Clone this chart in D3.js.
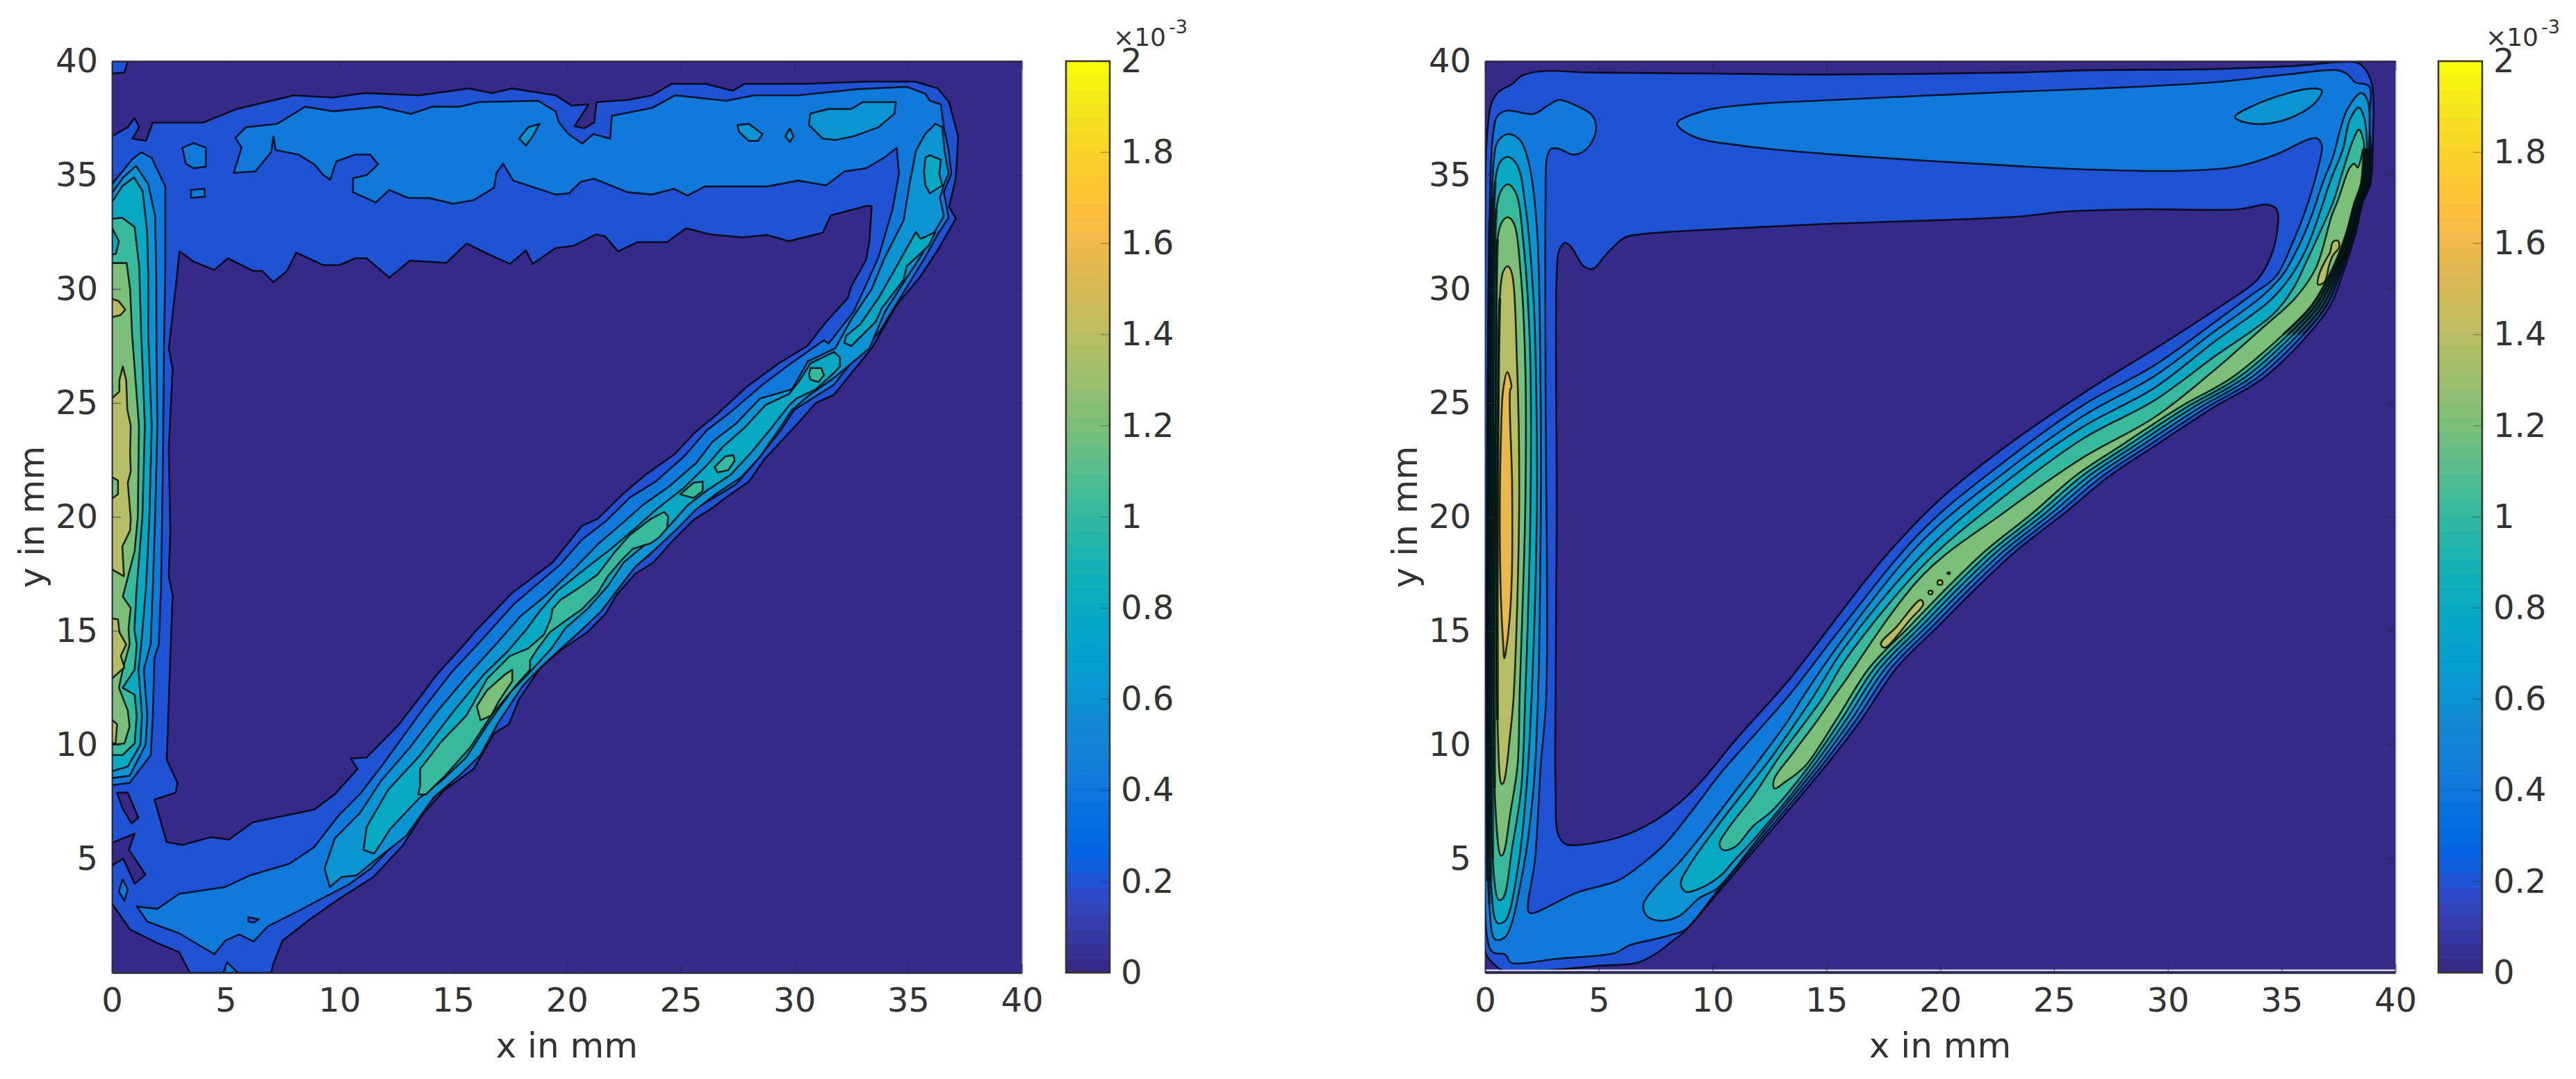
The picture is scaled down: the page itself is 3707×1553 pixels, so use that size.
<!DOCTYPE html>
<html><head><meta charset="utf-8">
<script src="https://cdn.jsdelivr.net/npm/d3@7"></script>
<style>html,body{margin:0;background:#fff}svg{display:block}text{font-family:"DejaVu Sans",sans-serif;fill:#333}</style>
</head><body><div id="c"></div>
<script>
// ---------- tick labels and levels ----------
const xTicks=[0,5,10,15,20,25,30,35,40];
const yTicks=[5,10,15,20,25,30,35,40];
const cbTicks=[0,0.2,0.4,0.6,0.8,1,1.2,1.4,1.6,1.8,2];
const axisLabels=["x in mm","y in mm"];
const parula=[[.2081,.1663,.5292],[.2116,.1898,.5777],[.2123,.2138,.627],[.2081,.2386,.6771],[.1959,.2645,.7279],[.1707,.2919,.7792],[.1253,.3242,.8303],[.0591,.3598,.8683],[.0117,.3875,.882],[.006,.4086,.8828],[.0165,.4266,.8786],[.0329,.443,.872],[.0498,.4586,.8641],[.0629,.4737,.8554],[.0723,.4887,.8467],[.0779,.504,.8384],[.0793,.52,.8312],[.0749,.5375,.8263],[.0641,.557,.824],[.0488,.5772,.8228],[.0343,.5966,.8199],[.0265,.6137,.8135],[.0239,.6287,.8038],[.0231,.6418,.7913],[.0228,.6535,.7768],[.0267,.6642,.7607],[.0384,.6743,.7436],[.059,.6838,.7254],[.0843,.6928,.7062],[.1133,.7015,.6859],[.1453,.7098,.6646],[.1801,.7177,.6424],[.2178,.725,.6193],[.2586,.7317,.5954],[.3022,.7376,.5712],[.3482,.7424,.5473],[.3953,.7459,.5244],[.442,.7481,.5033],[.4871,.7491,.484],[.53,.7491,.4661],[.5709,.7485,.4494],[.6099,.7473,.4337],[.6473,.7456,.4188],[.6834,.7435,.4044],[.7184,.7411,.3905],[.7525,.7384,.3768],[.7858,.7356,.3633],[.8185,.7327,.3498],[.8507,.7299,.336],[.8824,.7274,.3217],[.9139,.7258,.3063],[.945,.7261,.2886],[.9739,.7314,.2666],[.9938,.7455,.2403],[.999,.7653,.2164],[.9955,.7861,.1967],[.988,.8066,.1794],[.9789,.8271,.1633],[.9697,.8481,.1475],[.9626,.8705,.1309],[.9589,.8949,.1132],[.9598,.9218,.0948],[.9661,.9514,.0755],[.9763,.9831,.0538]];

// ---------- LEFT panel: contour rings, [x mm, y mm] ----------
const left02Outer=[[0,36.7],[.7,37.1],[1,37.5],[1.2,37.1],[.9,36.6],[1.5,36.5],[1.8,37.3],[4,37.3],[5.5,37.9],[8,38.5],[9.7,38.4],[11.1,38.6],[13.5,38.5],[15.7,38.8],[16.7,38.6],[17.6,38.8],[19.5,38.5],[20.2,38.05],[20.95,38.1],[20.34,37.15],[20.75,37.05],[21.2,37.3],[21.3,38.2],[22.7,38.3],[23.75,38.5],[24.6,39],[26.1,39],[27.3,38.7],[27.8,39],[30.4,39],[33.2,39.1],[35.3,39.1],[36.3,38.8],[36.8,38.2],[37.2,36.7],[37.1,34.9],[36.8,33.6],[37.1,33.1],[36.3,31.7],[35.5,30.5],[34.5,29.3],[33.4,27.4],[32.5,26.3],[31.74,25.36],[30.94,25],[30.24,24.2],[29.5,23.4],[28.7,22.56],[28,21.55],[27.2,21],[26.4,20.4],[25.6,19.9],[24.6,18.9],[23.8,18],[23,17.5],[22.2,16.6],[21.7,15.75],[20.9,14.94],[19.7,14.13],[18.85,13.4],[17.9,12],[17.45,10.9],[16.8,10.5],[15.9,8.94],[14.6,8],[13.7,7],[12.8,5.6],[11.5,4.2],[10,3.25],[8.7,2.34],[7.5,1.4],[7.1,.4],[7,0],[3.43,0],[2.96,.9],[2,1.3],[.8,1.9],[0,3.05]];
const left02Corner=[[0,40],[.7,40],[.55,39.5],[0,39.46]];
const left02Inner=[[2.97,31.66],[3.6,31.2],[4.5,30.84],[5.1,31.35],[6.2,30.8],[6.6,30.8],[7.1,30.3],[7.7,30.8],[8.1,31.6],[9.3,31.05],[10,31.05],[10.7,31.35],[11.2,31.35],[12.2,30.5],[13.1,31.25],[14.7,31.15],[15.6,32],[16.4,31.6],[17.5,31.1],[18.2,31.7],[18.5,31.1],[19.5,31.8],[20.3,31.9],[21.3,32.4],[21.7,32.3],[22.25,31.65],[23.1,32.06],[24.4,32.06],[25.25,32.67],[26.3,32.4],[27.7,32.27],[28.8,32.37],[29.75,32.1],[31.25,32.47],[31.6,33.23],[33.16,33.64],[33.4,33.64],[33.3,32.1],[33.16,31.3],[32.5,30.1],[32.35,29.6],[31.4,28.56],[30.57,27.5],[29.3,26.73],[27.9,25.7],[26.6,24.5],[25.6,23.68],[24.75,22.76],[23.46,21.85],[22.5,21.04],[21.36,19.92],[20.66,19.6],[19.37,18],[17.6,16.67],[16,15],[15.4,14.3],[14.3,13.1],[13.55,12.1],[12.6,10.87],[11.2,9.45],[10.5,9.4],[10.8,8.94],[9.8,7.83],[8.9,7.16],[6.2,6.6],[5.14,5.84],[4.36,5.95],[3.1,5.6],[2.4,5.74],[1.87,7.6],[2.8,7.9],[2.88,8.33],[2.41,9.35],[2.57,13.9],[2.67,16.56],[2.5,17.4],[2.57,19.4],[2.5,23],[2.67,26.5],[2.5,27.4],[2.84,30.4]];
const left02HoleA=[[0,5.7],[1,6.1],[.75,5.4],[1.48,4.3],[1,3.9],[.5,5],[0,4.7]];
const left02HoleB=[[.23,7.9],[.7,7.9],[1.17,6.8],[.86,6.55],[.47,7.2]];
const left04Column=[[0,34.6],[.9,35.7],[1.3,36],[1.75,35.75],[2.35,34.5],[2.35,31],[2.29,27.4],[2.26,24],[2.21,20],[2.16,16.9],[2.06,14.4],[1.87,13.8],[1.8,11.3],[1.71,9.55],[.78,8.33],[0,8.23]];
const left04Main=[[5.36,35.1],[6.3,35.16],[7,36],[7.1,36.7],[7.2,36.1],[8.2,35.9],[8.9,35.47],[9.3,35],[9.6,34.8],[9.86,35.6],[10.7,35.9],[11.36,35.9],[11.7,35.47],[11.2,35],[10.6,34.86],[10.6,34.25],[11.6,33.8],[12.2,34.35],[13,34],[13.96,33.99],[15,33.74],[15.9,33.9],[16.8,34.45],[16.9,35.1],[17.2,35.5],[17.64,34.76],[19.5,34.15],[20.1,34.2],[20.6,34.7],[21.2,34.84],[22.66,34.25],[23.75,34.15],[24.7,34.4],[25.3,34.1],[26.07,34.5],[28.8,34.5],[30.16,34.76],[31.4,34.55],[32.2,35.16],[33.16,35.3],[34,35.8],[34.5,36.2],[34.6,35.06],[34.3,33.44],[33.7,31.4],[33.16,30.2],[32.6,29],[31.5,27.6],[31.3,27.75],[29.8,26.7],[28.6,25.8],[27.2,24.6],[26.15,23.8],[25.2,22.7],[23.9,21.55],[22.76,20.84],[21.7,19.8],[20.66,19],[19.7,17.9],[17.7,16.2],[16.1,14.43],[14.95,13.2],[13.7,11.6],[11.84,9.04],[10.9,7.83],[9.97,6.9],[8.88,5.5],[7.8,4.78],[6.07,4.27],[4.98,3.76],[2.96,3.46],[2,2.8],[1.1,2.9],[1.56,2.24],[2.96,1.73],[4.5,.81],[5,1.42],[5.6,1.68],[6.23,1.37],[6.85,2.03],[8.26,2.74],[9.03,3.15],[10.4,3.86],[11.37,4.57],[12.46,5.69],[13.08,6.5],[13.86,7.42],[14.9,8.33],[15.7,9.15],[16.67,10.57],[17.76,12.4],[18.4,13.2],[19,14],[20.2,15],[21.1,15.65],[21.8,16.6],[22.65,17.6],[23.6,18.3],[24.5,19.3],[25.33,20.2],[26.27,20.73],[27.44,21.44],[28.25,22.36],[29.4,23.8],[30,24.7],[30.94,25.3],[31.74,25.8],[33,27.4],[33.7,28.06],[34.4,29.2],[35.2,30.5],[35.75,31.4],[36.3,32.4],[36.78,33.13],[36.57,34.25],[36.9,35.06],[36.78,36.08],[36.57,37.1],[36.44,38.1],[35.96,38.26],[35.75,38.57],[34.94,38.87],[32.75,38.77],[30.16,38.5],[28.25,38.5],[27,38.26],[24.77,38.5],[23.75,37.95],[21.98,37.6],[21.9,36.6],[21.16,36.8],[20.68,36.38],[20.07,36.8],[19.66,37.3],[19.5,37.8],[18.73,38.26],[16.14,38.2],[15.3,38],[14.1,38],[13.14,37.68],[11.77,38],[9.73,37.8],[8.5,38],[7.27,37.25],[5.9,37.1],[5.43,36.64],[5.7,36.2]];
const left04IslandA=[[3.1,36.2],[3.6,36.4],[4.13,36.2],[4.13,35.37],[3.6,35.3],[3.25,35.5]];
const left04IslandB=[[3.48,34.35],[4.07,34.4],[4.09,34.05],[3.48,34]];
const left04IslandC=[[5.06,.46],[5.53,0],[4.9,0]];
const left04IslandD=[[.47,4.1],[.7,3.66],[.55,3.15],[.31,3.56]];
const left04Hole=[[6,2.44],[6.46,2.34],[6.23,2.2],[6,2.24]];
const left06Column=[[0,34.2],[.5,34.9],[1.06,35.4],[1.6,34.6],[1.9,33.2],[1.95,30.5],[1.96,27.4],[2,24],[1.9,20],[1.8,16.9],[1.7,14.4],[1.4,13.3],[1.56,11.3],[1.48,10],[.78,8.64],[0,8.54]];
const left06Main=[[36.2,37.25],[35.75,36.8],[35.35,36.08],[35.07,34.65],[34.8,33],[33.98,31.4],[33.4,30],[32.5,28.66],[31.8,27.4],[30.6,26.83],[29.9,25.6],[28.5,25.2],[27.44,24.1],[26.4,23.3],[25.68,22.36],[24.5,21.34],[23.35,20.53],[22.3,19.6],[21.36,18.8],[20.4,17.8],[19.1,16.57],[17.97,15.65],[16.9,14.43],[15.6,13],[14.33,11.5],[13.08,9.86],[11.84,8.43],[10.9,7],[9.8,5.9],[9.35,4.57],[9.58,3.76],[10.1,4.2],[10.75,4.27],[11.5,4.88],[12.93,6],[14.17,7.72],[15.26,8.64],[16.2,9.55],[17,11],[18.07,12.6],[18.85,13.4],[19.5,14],[20.54,14.94],[21.5,15.85],[22.2,16.77],[23,17.8],[23.9,18.6],[24.87,19.5],[25.68,20.33],[26.6,21.04],[27.67,21.75],[28.5,22.66],[29.3,23.8],[29.9,24.7],[30.6,25.3],[31.74,26.1],[33.3,27.4],[33.98,29],[34.94,30.5],[35.6,31.5],[36.1,32.4],[36.57,33.2],[36.4,34],[36.6,34.65],[36.78,35.06],[36.6,36.08],[36.5,37.1]];
const left06PatchA=[[17.9,36.6],[18.3,37.1],[18.8,37.25],[18.5,36.7],[18.2,36.3]];
const left06PatchB=[[27.5,37.2],[28,37.25],[28.6,36.8],[28.4,36.5],[28,36.5],[27.57,36.9]];
const left06PatchC=[[29.8,37.05],[29.96,36.7],[29.8,36.45],[29.6,36.7]];
const left06PatchD=[[30.7,37.7],[31.5,37.9],[32.5,37.9],[33,38.2],[34.46,38.2],[34.4,37.7],[33.7,37.1],[32.6,36.7],[31.8,36.54],[31.25,36.6],[30.64,37.2]];
const left08Column=[[0,33.8],[.45,34.5],[.97,34.9],[1.35,34.3],[1.55,32.5],[1.6,30.5],[1.6,28],[1.75,24],[1.65,20],[1.5,16.9],[1.29,14.4],[1.17,13.3],[1.32,11.3],[1.25,10],[.7,9.05],[0,8.84]];
const left08Patch=[[35.76,35.77],[35.96,35.87],[36.44,35.67],[36.37,35.06],[36.5,34.55],[35.96,34.2],[35.76,34.55],[35.7,35.15]];
const left08Upper=[[35.55,32.2],[36.2,32.5],[35.9,31.9],[35.48,31.5],[34.94,31],[34.8,30.4],[33.85,29.17],[33.57,28.56],[32.5,27.5],[32.2,27.64],[32.28,27.95],[32.9,28.46],[33.7,29.6],[34.5,31],[35.34,32.5]];
const left08Diagonal=[[31.74,27.24],[30.7,26.73],[30.24,26],[29.77,25.4],[28.72,24.9],[27.8,23.9],[26.85,23.07],[26.15,22.26],[25.1,21.24],[23.9,20.3],[22.9,19.41],[21.94,18.6],[20.9,17.8],[19.6,16.77],[18.8,15.85],[18.2,15.04],[17.4,14.1],[16.36,13.1],[14.95,11.38],[13.55,9.55],[12.15,8.03],[11.2,6.4],[11.06,5.39],[11.53,5.23],[11.84,5.69],[12.23,6.3],[13.47,7.62],[14.5,8.43],[15.58,9.45],[16.5,10.87],[17.6,12.4],[18.2,13],[19.3,14.2],[19.95,15.14],[20.9,15.96],[21.8,16.97],[22.5,18],[23.46,18.8],[24.5,19.6],[25.33,20.53],[26.27,21.24],[27.2,21.85],[28.14,22.87],[29.07,24],[29.77,24.9],[30.1,25.2],[30.94,25.6],[31.74,26.32],[32,26.6],[32,27]];
const left10Column=[[0,33.08],[.45,33.13],[1,32.72],[1.2,31],[1.29,28],[1.45,24],[1.34,20],[1.19,18.1],[1.09,16.9],[.99,15.05],[1.09,14.4],[1,13.3],[.47,12.5],[1,12.2],[1.09,11.3],[1,10.06],[.47,9.55],[0,9.55]];
const left10Hole=[[0,32.7],[.31,32.1],[.18,31.55],[0,31.5]];
const left10PatchA=[[30.71,26.53],[31.18,26.53],[31.3,26.22],[31.06,25.92],[30.71,26.02],[30.65,26.27]];
const left10PatchB=[[26.97,22.66],[27.32,22.71],[27.38,22.46],[27.09,22.05],[26.62,21.95],[26.5,22.2]];
const left10PatchC=[[25.57,21.5],[25.97,21.55],[25.97,21.14],[25.57,20.83],[24.98,20.99]];
const left10Long=[[24.28,20.22],[24.46,20],[24.4,19.5],[24.05,19.1],[23.7,18.85],[22.9,18.6],[22.4,18.1],[21.8,17.4],[21.36,16.67],[20.66,15.95],[19.95,15.45],[19.25,14.94],[18.7,14.2],[18.38,13.7],[18.38,13.3],[17.76,12.6],[16.67,11.28],[15.73,9.86],[14.64,8.64],[13.8,7.82],[13.47,7.82],[13.55,8.23],[13.55,8.94],[14.5,10.16],[15.58,11.28],[16.5,12.9],[17.5,13.9],[18.3,14.23],[19,14.84],[19.3,15.55],[19.37,15.96],[19.72,16.36],[20.66,16.97],[21.36,17.48],[22.06,18.4],[22.76,19.2],[23.7,19.92]];
const left12Column=[[0,31.14],[.65,31.14],[.8,30],[.89,28],[1.19,24],[1.14,20],[1,18.5],[.48,16.5],[.83,16],[.73,15.1],[.78,14.4],[.5,13.4],[.31,12.5],[.7,11.5],[.78,10.8],[.55,10.06],[0,10]];
const left12Diagonal=[[17.6,13.3],[17.6,12.8],[17,11.9],[16.67,11.28],[16.2,11.08],[16.04,11.7],[16.5,12.4],[17.3,13.1]];
const left14Patch=[[0,29.57],[.3,29.47],[.59,29.1],[.38,28.86],[0,28.76]];
const left14Main=[[.48,26.6],[.63,26],[.68,24.7],[.83,24],[.8,22.8],[.83,22],[.7,21.5],[.83,19.9],[.8,19.4],[.46,18.7],[.53,17.4],[0,17.7],[0,25.2],[.33,25.5],[.33,26]];
const left14Hole=[[0,21.75],[.27,21.6],[.27,21],[0,20.8]];
const left14Lower=[[0,15.55],[.27,15.5],[.33,14.94],[.63,14.4],[.39,13.9],[.55,13.4],[0,12.9]];
const left14Edge=[[0,11.1],[.23,10.9],[.16,10.06],[0,10.06]];

// ---------- RIGHT panel: shared lower edge of the diagonal band ----------
const rightEdgeY=[1.87,3.7,6.04,9.05,11.16,13.38,15.25,16.89,18.52,20.16,21.8,23.1,24.8,26.1,28,29.3,31,32.4,33.8,34.6,36.15];
const rightEdge02X=[8.83,10.4,12.4,14.95,16.57,18.09,19.96,21.6,23.35,25.45,27.44,29.4,32,34.2,36.17,37.15,37.8,38.24,38.57,38.9,39];
const rightEdge04X=[8.77,10.3,12.26,14.77,16.35,17.85,19.71,21.34,23.08,25.17,27.14,29.1,31.7,33.92,35.95,36.99,37.7,38.16,38.5,38.82,38.92];
const rightEdge06X=[8.71,10.2,12.12,14.59,16.13,17.61,19.46,21.08,22.81,24.89,26.84,28.8,31.4,33.64,35.73,36.83,37.6,38.08,38.43,38.74,38.84];
const rightEdge08X=[8.65,10.1,11.98,14.41,15.91,17.37,19.21,20.82,22.54,24.61,26.54,28.5,31.1,33.36,35.51,36.67,37.5,38,38.36,38.66,38.76];
const rightEdge10X=[8.59,10,11.84,14.23,15.69,17.13,18.96,20.56,22.27,24.33,26.24,28.2,30.8,33.08,35.29,36.51,37.4,37.92,38.29,38.58,38.68];
const rightEdge12X=[8.53,9.9,11.7,14.05,15.47,16.89,18.71,20.3,22,24.05,25.94,27.9,30.5,32.8,35.07,36.35,37.3,37.84,38.22,38.5,38.6];
const edge=(xs,from)=>d3.zip(xs,rightEdgeY).slice(from);
const right02Bottom=[[0,.96],[.42,.35],[.8,.09],[2.45,.09],[4.94,.3],[6.73,.45],[7.6,.9],[8.2,1.36]];
const right02Top=[[38.95,39.07],[38.57,39.77],[38.24,39.95],[35.3,39.77],[32,39.65],[26.57,39.6],[23.3,39.5],[14.75,39.41],[9.66,39.46],[4.57,39.5],[2.53,39.56],[1.62,39.36],[1.2,39],[.6,38.65],[.3,38.2],[.14,37.3],[.04,35.75],[0,32.7]];
const right02Inner=[[3.25,31.68],[3.5,32.03],[3.76,31.88],[4.37,30.97],[4.77,30.9],[5.28,31.47],[6.1,32.24],[6.8,32.4],[9.66,32.6],[14.75,32.85],[23.3,33.17],[25.5,33.4],[28.75,33.5],[33.1,33.5],[34.4,33.7],[34.8,33.47],[34.75,32.18],[34.4,31.13],[33.9,30.37],[32.35,29.26],[29.84,27.63],[26.4,25.5],[22.76,23],[19.96,20.74],[17.5,18.17],[15.3,15.37],[13.4,12.9],[11,10.2],[9.6,8.5],[8.68,7.57],[7.43,6.65],[6.18,6.04],[4.78,5.69],[3.54,5.64],[3.22,6.04],[3.1,8.08],[3.1,12.15],[3.15,20],[3.15,30.66]];
const right04Top=[[8.44,37.27],[9.66,37.83],[11.7,38.1],[14.75,38.27],[23.3,38.66],[27.66,38.83],[32,39.07],[35.3,39.42],[37.48,39.6],[37.9,39.42],[38.24,39.07],[38.84,38.9],[38.84,37.3]];
const right04Rest=[[8.2,1.67],[7.58,1.5],[6.34,1.2],[5.72,.87],[3.07,.6],[1.5,.4],[1.12,.45],[.89,.8],[.34,.9],[.11,1.46],[.1,20],[.2,33],[.35,36.76],[.55,37.6],[.96,37.83],[2.13,37.68],[2.74,38.04],[3.25,38.3],[3.96,38.07],[4.67,37.66],[4.88,37.17],[4.72,36.5],[4.27,36],[3.86,35.9],[3.25,36.15],[2.9,36.15],[2.72,35.75],[2.66,33.7],[2.66,25.58],[2.69,12.15],[2.45,9.1],[2.2,5],[1.9,2.7],[2.05,2.6],[4,3.5],[5.87,4.06],[6.96,4.82],[7.9,5.64],[9.14,7.16],[10.23,8.6],[11,9.5],[13.3,12.1],[15.75,15.25],[19.26,19.46],[22.76,22.38],[26.27,24.9],[29.4,26.64],[32,28.5],[33.66,29.73],[34.75,30.55],[35.5,32.06],[36.06,33.47],[36.55,35.1],[36.77,36.3],[36.55,36.62],[36.17,36.56],[34.75,35.9],[33.1,35.39],[30.93,35.2],[26.57,35.24],[23.3,35.4],[14.75,35.95],[11.2,36.3],[9.15,36.7]];
const right06Ellipse=[[32.95,37.55],[33.66,38],[35.3,38.6],[36.4,38.8],[36.77,38.72],[36.55,38.25],[35.6,37.6],[34.4,37.26],[33.44,37.3]];
const right06Column=[[.45,1.46],[.19,3],[.15,20.5],[.2,31],[.3,34],[.4,35.75],[.55,36.46],[1,36.8],[1.52,36.56],[1.92,35.55],[2.28,32.7],[2.43,26.6],[2.45,20.5],[2.33,12.15],[2.13,8.08],[1.67,4.5],[.89,1.57]];
const right06Upper=[[38.79,38.25],[38.5,38.6],[37.9,37.9],[37.6,37.08],[37.26,35.8],[36.8,34.63],[36.28,33.1],[35.73,31.83],[35.08,30.66],[34.2,29.73],[32,28.1],[29.4,26.17],[26.27,24.42],[22.76,21.9],[19.26,18.99],[15.75,14.67],[14,12.15],[13.3,11.04],[11.95,9.2],[10.85,7.77],[9.6,6.14],[8.52,4.82],[7.43,3.7],[6.96,2.99],[7.12,2.48],[7.74,2.28],[8.52,2.48],[9.45,3.3]];
const right08Column=[[.55,2.18],[.26,4],[.25,20.5],[.3,31],[.45,34.7],[.65,35.55],[1,35.8],[1.41,35.44],[1.77,33.7],[2.13,29.6],[2.23,26.6],[2.28,20.5],[2.05,12.15],[1.82,8.08],[1.43,4.5],[.89,2.28]];
const right08Upper=[[38.62,37.55],[38.4,37.96],[38,37.43],[37.7,36.15],[37.15,34.75],[36.6,33.1],[36.06,31.7],[35.4,30.55],[34.5,29.5],[32,27.65],[29.4,25.65],[26.27,23.95],[22.76,21.44],[19.26,18.4],[15.75,14.2],[14.45,12.15],[13.7,11.04],[12.4,9.2],[11.17,7.67],[10.08,6.25],[8.99,4.72],[8.6,3.9],[8.83,3.55],[9.45,3.7],[10.4,4.3],[10.86,4.82]];
const right10Column=[[.61,3.19],[.34,5],[.35,20.5],[.4,31],[.5,33.5],[.7,34.3],[1,34.6],[1.36,34.2],[1.67,32.2],[1.97,27.6],[2,20.5],[1.77,12.15],[1.59,8.08],[1.2,5.53],[.81,3.3]];
const right10Upper=[[38.57,35.2],[38.62,36.4],[38.4,37],[38.13,36.5],[37.7,35.2],[37.26,33.8],[36.6,32.3],[36.06,31.13],[35.5,30],[34.64,28.9],[32,27],[29.4,25.1],[26.27,23.43],[22.76,20.86],[19.26,17.88],[15.75,13.6],[14.9,12.15],[14.1,11.04],[12.88,9.4],[11.8,7.77],[10.7,6.35],[10.3,5.64],[10.47,5.38],[11,5.53],[11.8,6.45],[12.57,7.06]];
const right12Column=[[.7,5.13],[.42,8.08],[.45,20.5],[.5,30],[.55,32.2],[.75,32.95],[1,33.15],[1.26,32.9],[1.57,30.66],[1.77,26.6],[1.77,20.5],[1.52,12.15],[1.43,9.1],[1.12,7.06],[.81,5.23]];
const right12Upper=[[38.35,35.33],[38.2,35.5],[38,35.33],[37.48,33.9],[37.2,33.2],[36.5,30.9],[35.6,29.6],[34.2,28.33],[32,26.4],[29.4,24.36],[26.27,22.6],[22.76,20.16],[19.26,17.47],[15.75,12.7],[15.35,12.15],[14.5,10.93],[13.5,9.6],[12.7,8.48],[12.72,8.08],[13.2,8.38]];
const right14Column=[[.73,8.28],[.55,11.1],[.55,20.5],[.6,27],[.65,29.6],[.8,30.76],[1,31],[1.16,30.76],[1.41,26.6],[1.5,20.5],[1.26,12.15],[1.12,10.6],[.81,8.33]];
const right14Lobes=[[37.26,32.07],[37.48,32.12],[37.53,31.83],[37.26,31.48],[37.1,31.07],[36.88,30.3],[36.6,30.2],[36.66,30.66],[36.93,31.25],[37.13,31.6]];
const right14Sliver=[[17.39,14.43],[18.09,15.19],[19.14,16.36],[19.26,16.18],[18.67,15.48],[17.56,14.26]];
const right14DotA=[[19.5,16.75],[19.65,16.75],[19.65,16.62],[19.5,16.62]];
const right14DotB=[[19.9,17.2],[20.08,17.2],[20.08,17.04],[19.9,17.04]];
const right14DotC=[[20.33,17.56],[20.42,17.56],[20.42,17.5],[20.33,17.5]];
const right16Column=[[.98,26.36],[.8,25.6],[.7,23.5],[.65,19.5],[.7,16.4],[.8,14.4],[.85,13.8],[.96,14.4],[1.11,15.9],[1.19,17.9],[1.19,21.5],[1.11,25.6],[1.16,25.68]];
// where contour lines crowd into near-black bands along the left wall
const rightDense04=[[.1,4],[.1,20],[.2,33]];
const rightDense06=[[.19,3],[.15,20.5],[.2,31],[.3,34]];
const rightDense08=[[.26,4],[.25,20.5],[.3,31],[.45,34.7]];
const rightDense10=[[.34,5],[.35,20.5],[.4,31],[.5,33.5]];
const rightDense12=[[.42,8.08],[.45,20.5],[.5,30],[.55,32.2]];
const rightDense14=[[.55,11.1],[.55,20.5],[.6,27],[.65,29.6]];

// ---------- levels of each panel (level in units of 1e-3) ----------
const leftLevels=[
 [.2,[left02Outer,left02Corner,left02Inner,left02HoleA,left02HoleB]],
 [.4,[left04Column,left04Main,left04IslandA,left04IslandB,left04IslandC,left04IslandD,left04Hole]],
 [.6,[left06Column,left06Main,left06PatchA,left06PatchB,left06PatchC,left06PatchD]],
 [.8,[left08Column,left08Patch,left08Upper,left08Diagonal]],
 [1,[left10Column,left10Hole,left10PatchA,left10PatchB,left10PatchC,left10Long]],
 [1.2,[left12Column,left12Diagonal]],
 [1.4,[left14Patch,left14Main,left14Hole,left14Lower,left14Edge]]];
const rightLevels=[
 [.2,[[...right02Bottom,...edge(rightEdge02X,0),...right02Top],right02Inner]],
 [.4,[[...right04Top,...edge(rightEdge04X,0).reverse(),...right04Rest]]],
 [.6,[right06Ellipse,right06Column,[...right06Upper,...edge(rightEdge06X,1)]]],
 [.8,[right08Column,[...right08Upper,...edge(rightEdge08X,2)]]],
 [1,[right10Column,[...right10Upper,...edge(rightEdge10X,3)]]],
 [1.2,[right12Column,[...right12Upper,...edge(rightEdge12X,3)]]],
 [1.4,[right14Column,right14Lobes,right14Sliver,right14DotA,right14DotB,right14DotC]],
 [1.6,[right16Column]]];
const rightDenseWall=[rightDense04,rightDense06,rightDense08,rightDense10,rightDense12,rightDense14];
const rightDenseCorner=[edge(rightEdge04X,14),edge(rightEdge06X,14),edge(rightEdge08X,14),edge(rightEdge10X,14),edge(rightEdge12X,14)];

// ---------- drawing ----------
const W=3707,H=1553,fs=48;
const svg=d3.select("#c").append("svg").attr("width",W).attr("height",H);
const toColor=c=>d3.rgb(c[0]*255,c[1]*255,c[2]*255).formatHex();
const bandColor=v=>toColor(parula[Math.round(v/2*63)]);

const panels=[
 {x0:161,x1:1470.5,cb0:1534,cb1:1597,levels:leftLevels,dense:[],curve:d3.curveLinearClosed,gap:false,id:"l"},
 {x0:2137,x1:3447,cb0:3509,cb1:3572,levels:rightLevels,dense:[...rightDenseWall,...rightDenseCorner],curve:d3.curveCatmullRomClosed.alpha(.5),gap:true,id:"r"}];
const yTop=88,yBot=1400;

panels.forEach(p=>{
 const x=d3.scaleLinear().domain([0,40]).range([p.x0,p.x1]);
 const y=d3.scaleLinear().domain([0,40]).range([yBot,yTop]);
 const g=svg.append("g");
 const clipBottom=p.gap?1395.5:yBot;
 g.append("clipPath").attr("id","clip"+p.id).append("rect").attr("x",p.x0).attr("y",yTop).attr("width",p.x1-p.x0).attr("height",clipBottom-yTop);
 g.append("rect").attr("x",p.x0).attr("y",yTop).attr("width",p.x1-p.x0).attr("height",clipBottom-yTop).attr("fill",bandColor(0));
 const line=d3.line().x(d=>x(d[0])).y(d=>y(d[1])).curve(p.curve);
 const plot=g.append("g").attr("clip-path",`url(#clip${p.id})`);
 plot.append("g").selectAll("path").data(p.levels).join("path")
   .attr("d",d=>d[1].map(r=>line(r)).join(""))
   .attr("fill",d=>bandColor(d[0])).attr("fill-rule","evenodd")
   .attr("stroke","#000").attr("stroke-opacity",.8).attr("stroke-width",2.6).attr("stroke-linejoin","round");
 const denseLine=d3.line().x(d=>x(d[0])).y(d=>y(d[1])).curve(d3.curveCatmullRom.alpha(.5));
 plot.append("g").selectAll("path").data(p.dense).join("path")
   .attr("d",denseLine).attr("fill","none").attr("stroke","#00100f").attr("stroke-opacity",.7).attr("stroke-width",4);
 if(p.gap) g.append("rect").attr("x",p.x0).attr("y",1397.5).attr("width",p.x1-p.x0).attr("height",2.5).attr("fill","#2b2b6e");

 // axes
 const styleAxis=(a)=>{a.selectAll(".domain").attr("stroke","#2b2b45").attr("stroke-width",2.5);
   a.selectAll(".tick line").attr("stroke","#262650").attr("stroke-opacity",.55).attr("stroke-width",1.5);
   a.selectAll("text").attr("font-size",fs).attr("font-family",'"DejaVu Sans"').attr("fill","#333");};
 const ax=g.append("g").attr("transform",`translate(0,${yBot})`).call(d3.axisBottom(x).tickValues(xTicks).tickSize(-13).tickPadding(21).tickSizeOuter(0));
 styleAxis(ax);ax.selectAll("text").attr("dy",0).attr("y",56);
 const ay=g.append("g").attr("transform",`translate(${p.x0},0)`).call(d3.axisLeft(y).tickValues(yTicks).tickSize(-13).tickPadding(20).tickSizeOuter(0));
 styleAxis(ay);ay.selectAll(".domain").attr("stroke-opacity",.6);
 const at=g.append("g").attr("transform",`translate(0,${yTop})`).call(d3.axisTop(x).tickValues(xTicks).tickSize(-13).tickFormat("").tickSizeOuter(0));
 styleAxis(at);
 const ar=g.append("g").attr("transform",`translate(${p.x1},0)`).call(d3.axisRight(y).tickValues(yTicks).tickSize(-13).tickFormat("").tickSizeOuter(0));
 styleAxis(ar);ar.selectAll(".domain").attr("stroke-opacity",.35);

 g.append("text").attr("x",(p.x0+p.x1)/2).attr("y",1522).attr("text-anchor","middle").attr("font-size",50).text(axisLabels[0]);
 g.append("text").attr("transform",`translate(${p.x0-98},${(yTop+yBot)/2}) rotate(-90)`).attr("text-anchor","middle").attr("font-size",50).text(axisLabels[1]);

 // colour bar
 const cb=d3.scaleLinear().domain([0,2]).range([yBot,yTop]);
 const steps=d3.range(parula.length);
 g.append("g").selectAll("rect").data(steps).join("rect")
   .attr("x",p.cb0).attr("width",p.cb1-p.cb0)
   .attr("y",i=>cb((i+1)/parula.length*2)).attr("height",i=>cb(i/parula.length*2)-cb((i+1)/parula.length*2)+.6)
   .attr("fill",i=>toColor(parula[i]));
 g.append("rect").attr("x",p.cb0).attr("y",yTop).attr("width",p.cb1-p.cb0).attr("height",yBot-yTop).attr("fill","none").attr("stroke","#3a3325").attr("stroke-width",2.5);
 const ac=g.append("g").attr("transform",`translate(${p.cb1},0)`).call(d3.axisRight(cb).tickValues(cbTicks).tickSize(0).tickPadding(16).tickFormat(d3.format("~g")));
 ac.select(".domain").remove();
 ac.selectAll("text").attr("font-size",fs).attr("font-family",'"DejaVu Sans"').attr("fill","#333");
 g.append("g").selectAll("line").data(cbTicks).join("line").attr("x1",p.cb1-13).attr("x2",p.cb1).attr("y1",d=>cb(d)).attr("y2",d=>cb(d)).attr("stroke","#262626").attr("stroke-opacity",.35).attr("stroke-width",1.5);
 const mx=p.cb1+5;
 g.append("text").attr("x",mx).attr("y",66).attr("font-size",36).text("×10");
 g.append("text").attr("x",mx+80).attr("y",48).attr("font-size",27).text("-3");
});
</script></body></html>
